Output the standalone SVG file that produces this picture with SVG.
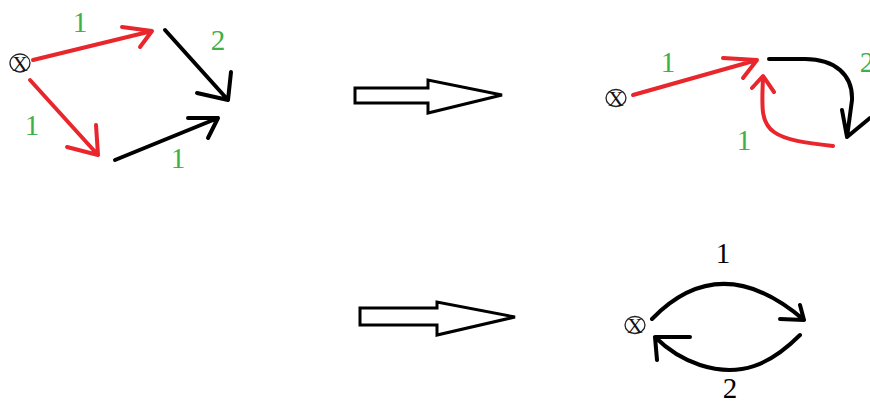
<svg xmlns="http://www.w3.org/2000/svg" width="870" height="408" viewBox="0 0 870 408">
  <style>
    .red { fill: none; stroke: #e8262b; stroke-width: 4; stroke-linecap: round; stroke-linejoin: round; }
    .blk { fill: none; stroke: #000; stroke-width: 4; stroke-linecap: round; stroke-linejoin: round; }
    .big { fill: #fff; stroke: #000; stroke-width: 3; stroke-linejoin: miter; }
    .ring { fill: #fff; stroke: #222; stroke-width: 1.3; }
    .x { font-family: "Liberation Serif", serif; font-size: 22px; fill: #111; text-anchor: middle; }
    .g { font-family: "Liberation Serif", serif; font-size: 29px; fill: #3bb04b; text-anchor: middle; }
    .b { font-family: "Liberation Serif", serif; font-size: 29px; fill: #000; text-anchor: middle; }
  </style>
  <rect width="870" height="408" fill="#fff"/>

  <!-- nodes -->
  <g id="node-start-a">
    <ellipse class="ring" cx="20" cy="63" rx="10" ry="9"/>
    <text class="x" x="20" y="71">X</text>
  </g>
  <g id="node-start-b">
    <ellipse class="ring" cx="616" cy="98" rx="10" ry="8.5"/>
    <text class="x" x="616" y="106">X</text>
  </g>
  <g id="node-start-c">
    <ellipse class="ring" cx="635" cy="325" rx="10" ry="8.5"/>
    <text class="x" x="635" y="333">X</text>
  </g>

  <!-- connectors -->
  <g id="connectors">
    <!-- first graph -->
    <path class="red" d="M33 60 L152 31 M122 27 L152 31 L140 47"/>
    <path class="red" d="M30 80 L98 155 M96 125 L98 155 L67 147"/>
    <path class="blk" d="M165 30 L228 100 M231 72 L228 100 L197 93"/>
    <path class="blk" d="M115 160 L218 118 M188 118 L218 118 L208 138"/>

    <!-- second graph -->
    <path class="red" d="M633 95 L757 60 M723 58 L757 60 L743 78"/>
    <path class="blk" d="M769 59 L805 59 C835 59 853 75 852 100 L847 137 M842 110 L847 137 L870 118"/>
    <path class="red" d="M833 146 C805 143 785 140 774 132 C760 122 762 105 763 77 M752 88 L763 76 L774 92"/>

    <!-- third graph -->
    <path class="blk" d="M652 319 C690 280 740 265 804 320 M780 319 L804 320 L800 305"/>
    <path class="blk" d="M800 335 C770 365 740 378 700 365 C685 360 668 350 655 337 M690 337 L655 337 L657 360"/>

    <!-- hollow transform arrows -->
    <path class="big" d="M355 88 L428 88 L428 80 L502 95 L428 113 L428 103 L355 103 Z"/>
    <path class="big" d="M360 308 L437 308 L437 302 L515 317 L437 335 L437 325 L360 325 Z"/>
  </g>

  <!-- edge weights -->
  <g id="labels">
    <text class="g" x="80" y="32">1</text>
    <text class="g" x="218" y="50">2</text>
    <text class="g" x="32" y="135">1</text>
    <text class="g" x="178" y="168">1</text>
    <text class="g" x="668" y="72">1</text>
    <text class="g" x="744" y="150">1</text>
    <text class="g" x="867" y="72">2</text>
    <text class="b" x="723" y="263">1</text>
    <text class="b" x="730" y="398">2</text>
  </g>
</svg>
